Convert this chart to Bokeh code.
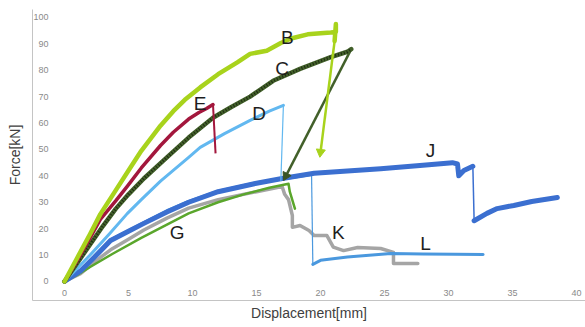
import math
from bokeh.plotting import figure
from bokeh.models import LinearAxis, FixedTicker, Range1d
from bokeh.embed import file_html
from bokeh.resources import INLINE
from bokeh.core.properties import value

# ---- data ----
x_ticks = [0, 5, 10, 15, 20, 25, 30, 35, 40]
y_ticks = [0, 10, 20, 30, 40, 50, 60, 70, 80, 90, 100]

K_x = [0, 1.25, 2.5, 3.6, 5, 6.2, 8, 9.7, 12, 15, 17, 17.2, 17.5, 17.8, 17.8, 18.4, 19.1, 19.5, 20.5, 21, 21.8, 22.9, 24.7, 25.7, 25.7, 27.6]
K_y = [0, 3, 8, 12, 16, 19.5, 24, 27.8, 31, 34, 36, 33, 31, 25, 20.5, 21.2, 19.3, 17.4, 17.4, 13, 11.7, 12.9, 12.5, 11, 6.8, 6.8]

G_x = [0, 1, 2, 3.8, 6, 8, 9.7, 12, 14, 16, 17.5, 17.6, 18]
G_y = [0, 2.5, 5.5, 10.6, 16.5, 21.5, 25.8, 30, 33, 35.5, 37, 34, 27.6]

L_x = [0, 1.25, 2.5, 3.6, 5, 6.2, 8, 9.7, 12, 15, 17, 19.3, 19.4, 20, 22.1, 25.5, 28, 30.5, 32.7]
L_y = [0, 4.2, 10.3, 15.8, 19.3, 22.3, 26.8, 30.3, 34.2, 37.4, 38.8, 40.5, 6.5, 8, 9.3, 10.6, 10.4, 10.3, 10.2]

J_x = [0, 1.25, 2.5, 3.6, 5, 6.2, 8, 9.7, 12, 15, 17, 19.5, 24.7, 28, 30.3, 30.7, 30.8, 31.2, 31.9, 32, 33, 33.8, 35.1, 36.5, 38.5]
J_y = [0, 4, 10, 15.5, 19, 22, 26.3, 30, 34, 37.2, 39, 41, 42.7, 44, 45, 44.5, 40, 42, 43.6, 23, 25.8, 27.6, 28.8, 30.3, 31.8]

D_x = [0, 2, 3.5, 4.9, 6, 7.5, 9.7, 10.6, 12.5, 14.5, 16, 17.1, 16.9]
D_y = [0, 10, 18, 25.7, 31, 38, 47, 50.8, 56, 61, 64.5, 66.7, 38]

C_x = [0, 1, 2, 3, 4, 5, 6.2, 8, 9.7, 11.6, 13, 14.5, 16.3, 18.4, 20.8, 22.1, 22.4, 17.3]
C_y = [0, 7, 14, 21, 27.5, 33, 39, 47, 54.5, 62, 66, 70, 76, 80.5, 85, 87, 88, 40]

E_x = [0, 1, 2, 2.8, 4, 4.9, 6, 7.5, 8.5, 9.7, 10.5, 11.1, 11.6, 11.8]
E_y = [0, 8, 16.5, 23.5, 30.5, 36, 43, 51.5, 56.5, 61.5, 64, 65.5, 67, 48.5]

B_x = [0, 1, 2, 2.8, 4, 5, 6, 7.5, 8.5, 9.4, 10.6, 12, 13.5, 14.5, 15.8, 16.9, 17.7, 19, 20, 20.8, 21.2, 21.2, 21.1, 20.0]
B_y = [0, 9, 18, 25.5, 34.5, 42, 49.5, 59, 64.5, 68.8, 73.5, 78.5, 83, 86.2, 87.4, 90.3, 92, 93.6, 94, 94.3, 94.5, 97.5, 91, 49]

label_text = ["B", "C", "D", "E", "G", "J", "K", "L"]
label_x = [17.4, 17.0, 15.2, 10.6, 8.8, 28.6, 21.4, 28.2]
label_y = [92.4, 80.7, 63.6, 67.4, 18.6, 49.6, 18.6, 14.4]

# ---- styles ----
styles = [
    ("K", K_x, K_y, "#a5a5a5", 3.5, 3.0),
    ("G", G_x, G_y, "#5aa62c", 2.5, 2.5),
    ("L", L_x, L_y, "#4a98de", 3.0, 1.2),
    ("J", J_x, J_y, "#3b6fd0", 5.0, 1.5),
    ("D", D_x, D_y, "#62b8f0", 3.0, 1.2),
    ("C", C_x, C_y, "#42602a", 4.5, 2.5),
    ("E", E_x, E_y, "#a3173d", 3.5, 2.0),
    ("B", B_x, B_y, "#a8d31c", 4.5, 2.5),
]
arrow_series = {"B": "#a8d31c", "C": "#3a5524"}
PX_X, PX_Y = 12.8, 2.64

p = figure(width=585, height=327, output_backend="svg", toolbar_location=None,
           x_range=Range1d(-2.5, 40.7), y_range=Range1d(-7.2, 103.0),
           x_axis_location=None, y_axis_location=None,
           min_border_left=32, min_border_right=0, min_border_top=9, min_border_bottom=27,
           background_fill_color="white", border_fill_color="white", outline_line_color=None)
p.grid.grid_line_color = None

tick_font = dict(major_label_text_font_size="9px", major_label_text_color="#8a8a8a",
                 major_label_text_font="Liberation Sans", axis_line_color=None,
                 major_tick_line_color=None, minor_tick_line_color=None)
ax_y = LinearAxis(ticker=FixedTicker(ticks=y_ticks), fixed_location=0, major_label_standoff=10, **tick_font)
ax_x = LinearAxis(ticker=FixedTicker(ticks=x_ticks), fixed_location=0, major_label_standoff=3, **tick_font)
p.add_layout(ax_y, "left")
p.add_layout(ax_x, "below")

title_kw = dict(ticker=FixedTicker(ticks=[]), axis_line_color="#c4c4c4", axis_line_width=1,
                major_tick_line_color=None, minor_tick_line_color=None,
                axis_label_text_font="Liberation Sans", axis_label_text_font_size="14px",
                axis_label_text_font_style="normal", axis_label_text_color="#404040")
t_y = LinearAxis(axis_label="Force[kN]", axis_label_standoff=10, **title_kw)
t_x = LinearAxis(axis_label="Displacement[mm]", axis_label_standoff=4, **title_kw)
p.add_layout(t_y, "left")
p.add_layout(t_x, "below")

for name, xs, ys, color, w_main, w_drop in styles:
    tx, ty = [], []
    dx0, dy0, dx1, dy1 = [], [], [], []
    for i in range(len(xs)):
        if i > 0 and ys[i] - ys[i - 1] < -8:
            tx.append(float("nan")); ty.append(float("nan"))
            dx0.append(xs[i - 1]); dy0.append(ys[i - 1]); dx1.append(xs[i]); dy1.append(ys[i])
        tx.append(xs[i]); ty.append(ys[i])
    p.line(tx, ty, line_color=color, line_width=w_main, line_join="round", line_cap="round")
    if dx0:
        p.segment(dx0, dy0, dx1, dy1, line_color=color, line_width=w_drop)
    if name == "C":
        p.line(tx, ty, line_color="#1e2a12", line_width=3, line_dash="1 2")
    if name in arrow_series:
        ang = math.atan2((ys[-1] - ys[-2]) * PX_Y, (xs[-1] - xs[-2]) * PX_X) - math.pi / 2
        p.scatter([xs[-1]], [ys[-1]], marker="triangle", size=9, angle=ang,
                  fill_color=arrow_series[name], line_color=arrow_series[name])

p.text(x=label_x, y=label_y, text=label_text, text_font=value("Liberation Sans"),
       text_font_size="19px", text_align="center", text_baseline="middle", text_color="#1e1e1e")

open("out.html", "w").write(file_html(p, INLINE))
